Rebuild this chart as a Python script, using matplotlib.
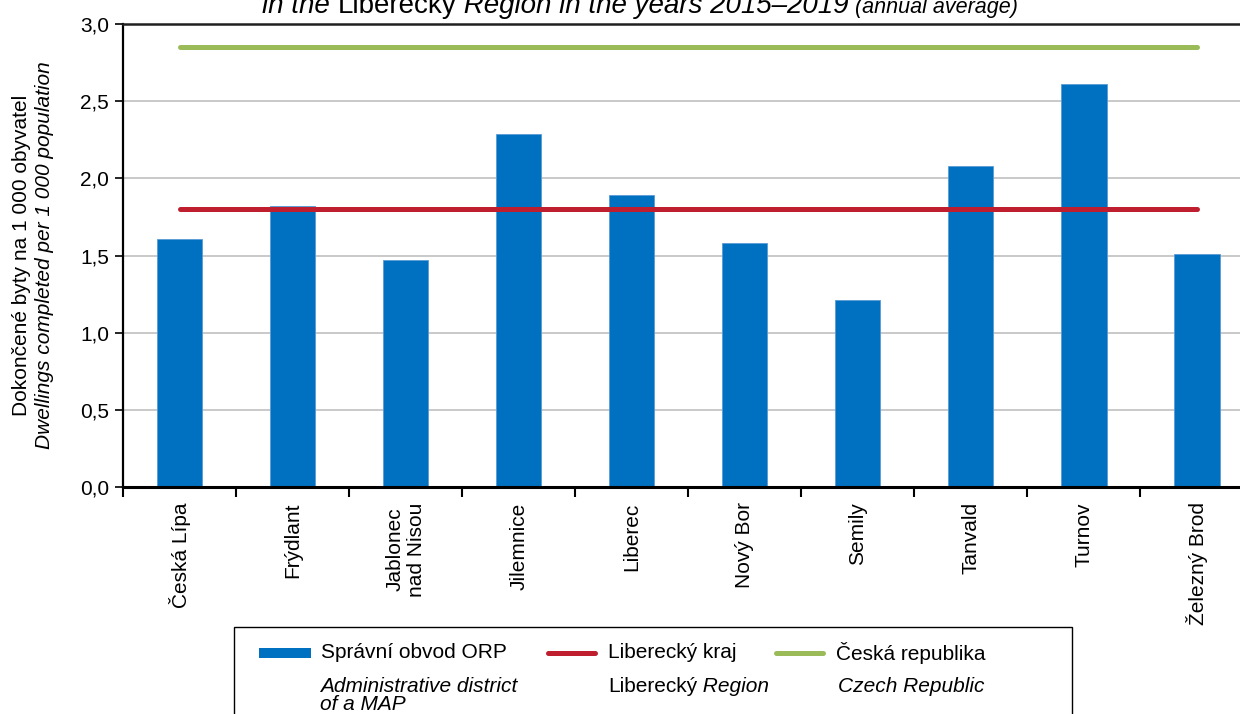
import matplotlib
matplotlib.use("Agg")
import matplotlib.pyplot as plt
from matplotlib.patches import Rectangle
from matplotlib.lines import Line2D

plt.rcParams['font.family'] = ['Liberation Sans', 'DejaVu Sans']

categories = ["Česká Lípa", "Frýdlant", "Jablonec\nnad Nisou", "Jilemnice", "Liberec",
              "Nový Bor", "Semily", "Tanvald", "Turnov", "Železný Brod"]
orp_values = [1.61, 1.82, 1.47, 2.29, 1.89, 1.58, 1.21, 2.08, 2.61, 1.51]
kraj_value = 1.80
cr_value = 2.85
yticks = [0.0, 0.5, 1.0, 1.5, 2.0, 2.5, 3.0]
ytick_labels = ["0,0", "0,5", "1,0", "1,5", "2,0", "2,5", "3,0"]

W, H = 1240, 714
fig = plt.figure(figsize=(W / 100, H / 100), dpi=100)

def fx(px):
    return px / W

def fy(py):
    return 1 - py / H

FS = 15

ax = fig.add_axes([fx(123), fy(487), fx(1253.5) - fx(123), fy(24) - fy(487)])
x = list(range(len(categories)))
ax.bar(x, orp_values, width=0.40, color="#0070c0", edgecolor="#5b9bd5", linewidth=0.6, zorder=2)
ax.plot([x[0], x[-1]], [kraj_value] * 2, color="#be1e2d", lw=3.6, solid_capstyle="round", zorder=3)
ax.plot([x[0], x[-1]], [cr_value] * 2, color="#9bbb59", lw=3.6, solid_capstyle="round", zorder=3)

ax.set_xlim(-0.5, len(categories) - 0.5)
ax.set_ylim(0, 3.0)
ax.set_yticks(yticks)
ax.set_yticklabels(ytick_labels, fontsize=FS)
ax.set_xticks(x)
ax.set_xticklabels(categories, rotation=90, fontsize=FS, va="top", ha="center", multialignment="center")
ax.tick_params(axis="x", which="major", length=0, pad=11)
ax.set_xticks([i - 0.5 for i in x] + [len(categories) - 0.5], minor=True)
ax.tick_params(axis="x", which="minor", length=7, width=1.5, direction="out", color="black")
ax.tick_params(axis="y", length=6, width=1.2, direction="out", pad=4)
ax.yaxis.grid(True, color="#c0c0c0", lw=1.2, zorder=0)
ax.set_axisbelow(True)
ax.spines["left"].set_linewidth(1.6)
ax.spines["bottom"].set_linewidth(2.2)
ax.spines["top"].set_linewidth(1.8)
ax.spines["top"].set_color("#202020")
ax.spines["right"].set_visible(False)

# y-axis label (two lines, second italic)
fig.text(fx(22), fy(255), "Dokončené byty na 1 000 obyvatel", rotation=90, ha="center", va="center", fontsize=FS)
fig.text(fx(45), fy(255), "Dwellings completed per 1 000 population", rotation=90, ha="center", va="center",
         fontsize=FS, style="italic")

# Title (partially cut at top)
fig.canvas.draw()
renderer = fig.canvas.get_renderer()
pieces = [("in the ", "italic", 20), ("Liberecký", "normal", 20),
          (" Region in the years 2015–2019", "italic", 20), (" (annual average)", "italic", 15.5)]
xpos = 262
for txt, st, fs in pieces:
    t = fig.text(fx(xpos), fy(13), txt, ha="left", va="baseline", style=st, fontsize=fs)
    bb = t.get_window_extent(renderer)
    xpos += bb.width

# Legend drawn manually
fig.patches.append(Rectangle((fx(234), fy(760)), fx(1072) - fx(234), fy(627) - fy(760),
                             transform=fig.transFigure, fill=False, edgecolor="black", lw=1.0))
fig.patches.append(Rectangle((fx(259), fy(658)), fx(311) - fx(259), fy(648) - fy(658),
                             transform=fig.transFigure, facecolor="#0070c0", edgecolor="none"))
fig.lines.append(Line2D([fx(548), fx(595)], [fy(653), fy(653)], transform=fig.transFigure,
                        color="#be1e2d", lw=3.6, solid_capstyle="round"))
fig.lines.append(Line2D([fx(776), fx(823)], [fy(653), fy(653)], transform=fig.transFigure,
                        color="#9bbb59", lw=3.6, solid_capstyle="round"))
fig.text(fx(321), fy(653), "Správní obvod ORP", ha="left", va="center", fontsize=FS)
fig.text(fx(608), fy(653), "Liberecký kraj", ha="left", va="center", fontsize=FS)
fig.text(fx(836), fy(653), "Česká republika", ha="left", va="center", fontsize=FS)
fig.text(fx(320), fy(686), "Administrative district", ha="left", va="center", fontsize=FS, style="italic")
fig.text(fx(320), fy(705), "of a MAP", ha="left", va="center", fontsize=FS, style="italic")
t1 = fig.text(fx(608), fy(686), "Liberecký", ha="left", va="center", fontsize=FS)
bb = t1.get_window_extent(renderer)
fig.text(fx(608) + bb.width / W, fy(686), " Region", ha="left", va="center", fontsize=FS, style="italic")
fig.text(fx(838), fy(686), "Czech Republic", ha="left", va="center", fontsize=FS, style="italic")

fig.savefig("out.png", dpi=100)
